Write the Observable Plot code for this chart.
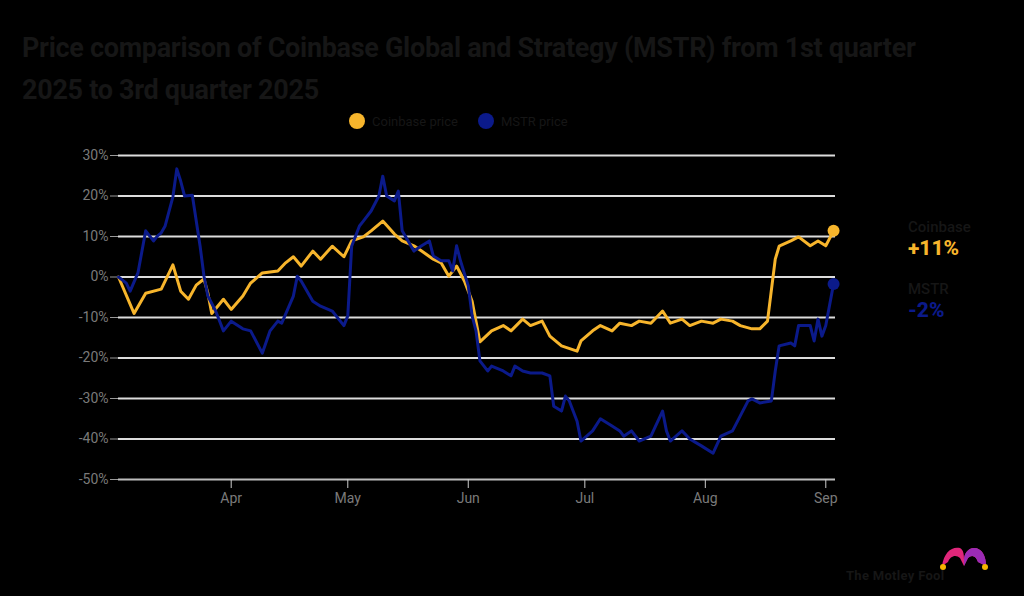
<!DOCTYPE html>
<html>
<head>
<meta charset="utf-8">
<script src="https://cdn.jsdelivr.net/npm/d3@7"></script>
<script src="https://cdn.jsdelivr.net/npm/@observablehq/plot@0.6"></script>
<style>
  html, body { margin: 0; padding: 0; background: #000; }
  body { width: 1024px; height: 596px; position: relative; overflow: hidden; font-family: "Roboto", "Noto Sans", sans-serif; }
  .title { position: absolute; left: 22px; top: 27px; width: 990px; font-family: "Roboto", sans-serif; font-weight: 700; font-size: 27px; line-height: 42px; color: #161616; letter-spacing: -0.3px; }
  .legend { position: absolute; top: 113px; left: 349px; display: flex; gap: 20px; font-size: 13px; color: #161616; align-items: center; }
  .legend span.item { display: flex; align-items: center; gap: 7px; }
  .legend .dot { width: 16px; height: 16px; border-radius: 50%; display: inline-block; }
  #chart { position: absolute; left: 0; top: 140px; }
  .endlab { position: absolute; left: 908px; font-family: "Roboto", sans-serif; }
  .endlab .nm { font-size: 15px; color: #161616; font-weight: 500; }
  .endlab .pct { font-size: 21px; font-weight: 800; line-height: 24px; }
  .brand { position: absolute; left: 846px; top: 568px; font-size: 13px; font-weight: 700; color: #161616; letter-spacing: 0.3px; }
  .logo { position: absolute; left: 938px; top: 544px; }
</style>
</head>
<body>
<div class="title">Price comparison of Coinbase Global and Strategy (MSTR) from 1st quarter<br>2025 to 3rd quarter 2025</div>
<div class="legend" id="legend"></div>
<div id="chart"></div>
<div class="endlab" id="lab0" style="top:218px"></div>
<div class="endlab" id="lab1" style="top:280px"></div>
<div class="brand">The Motley Fool</div>
<svg class="logo" width="52" height="28" viewBox="0 0 52 28">
  <path d="M4 22 C6 8 14 2 22 4 C26 6 26 12 26 16 C26 10 30 4 36 4 C44 4 48 12 48 22 L40 18 C38 12 34 10 30 14 L26 22 L22 14 C18 10 12 12 10 18 Z" fill="#e0267a"/>
  <path d="M26 16 C26 10 30 4 36 4 C44 4 48 12 48 22 L40 18 C38 12 34 10 30 14 L26 22 Z" fill="#9b2bb5"/>
  <circle cx="5" cy="23" r="3" fill="#f5b400"/>
  <circle cx="47" cy="23" r="3" fill="#f5b400"/>
</svg>
<script>
// ---- data ----
const seriesNames = ["Coinbase", "MSTR"];
const seriesColors = ["#f7b52c", "#0b1a8a"];
const changeLabels = ["+11%", "-2%"];

const yellowDates = ["2025-03-03","2025-03-07","2025-03-10","2025-03-14","2025-03-17","2025-03-19","2025-03-21","2025-03-23","2025-03-25","2025-03-26","2025-03-27","2025-03-30","2025-04-01","2025-04-04","2025-04-06","2025-04-09","2025-04-13","2025-04-15","2025-04-17","2025-04-19","2025-04-22","2025-04-24","2025-04-27","2025-04-30","2025-05-02","2025-05-05","2025-05-07","2025-05-10","2025-05-13","2025-05-15","2025-05-18","2025-05-20","2025-05-23","2025-05-25","2025-05-27","2025-05-29","2025-05-31","2025-06-02","2025-06-03","2025-06-04","2025-06-07","2025-06-10","2025-06-12","2025-06-15","2025-06-17","2025-06-20","2025-06-22","2025-06-25","2025-06-29","2025-06-30","2025-07-03","2025-07-05","2025-07-08","2025-07-10","2025-07-13","2025-07-15","2025-07-18","2025-07-21","2025-07-23","2025-07-26","2025-07-28","2025-07-31","2025-08-03","2025-08-05","2025-08-08","2025-08-10","2025-08-13","2025-08-15","2025-08-17","2025-08-19","2025-08-20","2025-08-23","2025-08-25","2025-08-28","2025-08-30","2025-09-01","2025-09-03"];
const yellowValues = [0,-9,-4,-3,3,-3.5,-5.5,-2,-0.5,-4,-9,-5.5,-8,-4.7,-1.5,1,1.5,3.5,5,2.7,6.4,4.4,7.6,5,8.9,9.9,11.4,13.8,10.6,8.9,7.7,6.4,4.4,3.5,0.2,2.7,-1,-6,-11,-16,-13.3,-12,-13.3,-10.4,-12,-10.9,-14.6,-17,-18.3,-15.8,-13.3,-12,-13.3,-11.4,-12,-10.9,-11.4,-8.4,-11.4,-10.4,-12,-10.9,-11.4,-10.4,-10.9,-12,-12.8,-12.8,-10.9,4.4,7.6,8.9,9.9,7.7,8.9,7.7,11.4];

const blueDates = ["2025-03-03","2025-03-05","2025-03-06","2025-03-08","2025-03-10","2025-03-12","2025-03-13","2025-03-14","2025-03-15","2025-03-17","2025-03-18","2025-03-19","2025-03-20","2025-03-22","2025-03-24","2025-03-25","2025-03-26","2025-03-28","2025-03-30","2025-04-01","2025-04-04","2025-04-06","2025-04-09","2025-04-11","2025-04-13","2025-04-14","2025-04-17","2025-04-18","2025-04-19","2025-04-22","2025-04-24","2025-04-27","2025-04-30","2025-05-01","2025-05-02","2025-05-04","2025-05-05","2025-05-07","2025-05-09","2025-05-10","2025-05-11","2025-05-13","2025-05-14","2025-05-15","2025-05-18","2025-05-20","2025-05-22","2025-05-23","2025-05-25","2025-05-27","2025-05-28","2025-05-29","2025-05-30","2025-06-01","2025-06-02","2025-06-03","2025-06-04","2025-06-06","2025-06-07","2025-06-10","2025-06-12","2025-06-13","2025-06-15","2025-06-17","2025-06-20","2025-06-22","2025-06-23","2025-06-25","2025-06-26","2025-06-27","2025-06-29","2025-06-30","2025-07-03","2025-07-05","2025-07-08","2025-07-10","2025-07-11","2025-07-13","2025-07-15","2025-07-18","2025-07-21","2025-07-22","2025-07-23","2025-07-26","2025-07-28","2025-07-31","2025-08-03","2025-08-05","2025-08-08","2025-08-10","2025-08-12","2025-08-13","2025-08-15","2025-08-18","2025-08-19","2025-08-20","2025-08-23","2025-08-24","2025-08-25","2025-08-28","2025-08-29","2025-08-30","2025-08-31","2025-09-01","2025-09-03"];
const blueValues = [0,-1.5,-3.5,1,11.4,8.9,10.1,10.9,12.6,19.8,26.7,23.7,20,20.2,7.6,0.2,-4.7,-8.4,-13.3,-10.9,-12.8,-13.3,-18.8,-13.3,-10.9,-11.4,-4.7,0.2,-1,-6,-7.2,-8.4,-12,-9.6,7.6,12.6,13.8,16.3,20,24.9,20,18.8,21.2,11.4,6.4,7.7,8.9,5.2,4,4,1.5,7.7,4,-2.2,-9.6,-13.3,-20.7,-23.2,-22,-23.2,-24.4,-22,-23.2,-23.7,-23.7,-24.4,-31.9,-33.1,-29.4,-30.6,-35.6,-40.5,-38,-35,-36.8,-38,-39.3,-38,-40.5,-39.3,-33.1,-38,-40.5,-38,-40,-41.7,-43.5,-39.3,-38,-34.3,-30.6,-30.1,-31.1,-30.6,-23.2,-17,-16.3,-17,-12,-12,-15.8,-10.4,-14.6,-12,-1.7];

const yTicks = [30, 20, 10, 0, -10, -20, -30, -40, -50];
const xTicks = ["2025-04-01","2025-05-01","2025-06-01","2025-07-01","2025-08-01","2025-09-01"];
const xDomain = ["2025-03-03","2025-09-03T12:00"];

// ---- build tables ----
const parse = d3.isoParse;
const rows = [
  ...yellowDates.map((d, i) => ({date: parse(d), value: yellowValues[i], s: seriesNames[0]})),
  ...blueDates.map((d, i) => ({date: parse(d), value: blueValues[i], s: seriesNames[1]}))
];
const lasts = [
  {date: parse(yellowDates[yellowDates.length - 1]), value: yellowValues[yellowValues.length - 1], s: seriesNames[0]},
  {date: parse(blueDates[blueDates.length - 1]), value: blueValues[blueValues.length - 1], s: seriesNames[1]}
];

const chart = Plot.plot({
  width: 1024,
  height: 380,
  marginLeft: 118,
  marginRight: 189,
  marginTop: 15,
  marginBottom: 41,
  style: {background: "transparent", fontFamily: "Roboto, sans-serif", fontSize: "14px", color: "#777"},
  x: {type: "time", domain: xDomain.map(parse), ticks: xTicks.map(parse), tickFormat: d3.timeFormat("%b")},
  y: {domain: [-50, 30], ticks: yTicks, tickFormat: d => d + "%"},
  color: {domain: seriesNames, range: seriesColors},
  marks: [
    Plot.ruleY(yTicks.filter(d => d > -50), {stroke: "#dcdcdc", strokeWidth: 2, strokeOpacity: 1}),
    Plot.ruleY([-50], {stroke: "#bdbdbd", strokeWidth: 2}),
    Plot.axisY({ticks: yTicks, tickFormat: d => d + "%", tickSize: 8, tickPadding: 2, stroke: "#999", fill: "#7a7a7a", fontSize: 14, label: null}),
    Plot.axisX({ticks: xTicks.map(parse), tickFormat: d3.timeFormat("%b"), tickSize: 9, tickPadding: 5, stroke: "#ccc", fill: "#7a7a7a", fontSize: 14, label: null}),
    Plot.line(rows, {x: "date", y: "value", z: "s", stroke: "s", strokeWidth: 3, curve: "linear"}),
    Plot.dot(lasts, {x: "date", y: "value", fill: "s", r: 6, stroke: null})
  ]
});
document.getElementById("chart").appendChild(chart);

// legend
const lg = document.getElementById("legend");
seriesNames.forEach((n, i) => {
  const it = document.createElement("span");
  it.className = "item";
  it.innerHTML = `<span class="dot" style="background:${seriesColors[i]}"></span><span>${n} price</span>`;
  lg.appendChild(it);
});
// end labels
seriesNames.forEach((n, i) => {
  const el = document.getElementById("lab" + i);
  el.innerHTML = `<div class="nm">${n}</div><div class="pct" style="color:${seriesColors[i]}">${changeLabels[i]}</div>`;
});
</script>
</body>
</html>
